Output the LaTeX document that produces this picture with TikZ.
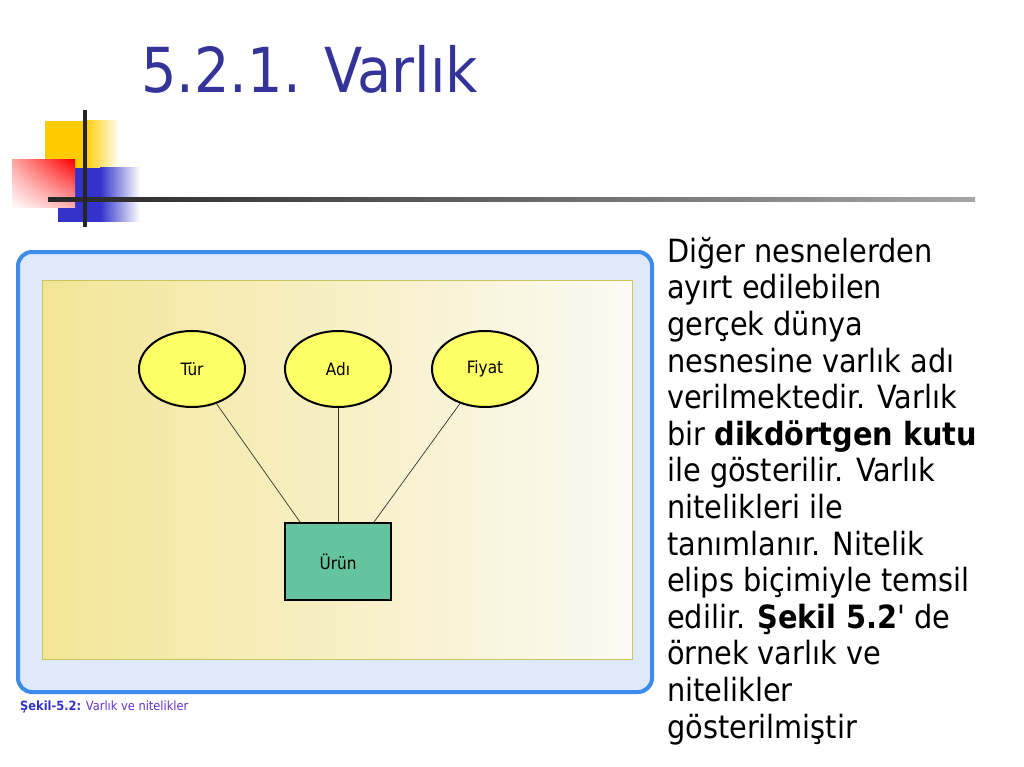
\documentclass[tikz,border=0pt]{standalone}
\usepackage{fontspec}
\setmainfont{DejaVu Sans Condensed}[BoldFont={DejaVu Sans Condensed Bold}]
\usetikzlibrary{positioning,shapes.geometric,shadings}

\definecolor{titleblue}{RGB}{51,51,153}
\definecolor{logoyellow}{RGB}{255,204,0}
\definecolor{logored}{RGB}{255,0,0}
\definecolor{logoblue}{RGB}{51,51,204}
\definecolor{panelblue}{RGB}{60,140,235}
\definecolor{panelfill}{RGB}{222,234,250}
\definecolor{innerleft}{RGB}{244,229,150}
\definecolor{innerright}{RGB}{251,250,244}
\definecolor{innerline}{RGB}{200,200,90}
\definecolor{attrfill}{RGB}{255,255,102}
\definecolor{entityfill}{RGB}{100,196,160}
\definecolor{capbold}{RGB}{51,51,204}
\definecolor{capreg}{RGB}{102,51,204}

\begin{document}
\begin{tikzpicture}[
    x=1pt, y=-1pt,
    node distance=38pt,
    attr/.style={draw, ellipse, line width=2pt, fill=attrfill, minimum width=106pt, minimum height=76pt, font=\fontsize{17}{20}\selectfont},
    entity/.style={draw, rectangle, line width=2.2pt, fill=entityfill, minimum width=106pt, minimum height=77pt, font=\fontsize{17}{20}\selectfont},
    link/.style={draw=black!80, line width=0.7pt}
]
\useasboundingbox[fill=white] (0,0) rectangle (1024,767);

% logo squares and rules
\fill[logoyellow] (45,121) rectangle (86,168);
\shade[left color=logoyellow, right color=white] (85,121) rectangle (120,168);
\fill[logoblue] (58,168) rectangle (101,222);
\shade[left color=logoblue, right color=white] (100,168) rectangle (140,222);
\shade[upper left=logored!35, upper right=logored, lower left=white, lower right=logored!30] (12,160) rectangle (75,208);
\shade[left color=black!85, right color=black!35] (48,198) rectangle (975,202);
\fill[black!85] (83,110) rectangle (87,227);

% title
\node[anchor=base west, inner sep=0pt, text=titleblue, font=\fontsize{62}{70}\selectfont] (title) at (141,93) {5.2.1. Varlık};

% figure panel
\draw[line width=4pt, draw=panelblue, fill=panelfill, rounded corners=14pt] (18,252) rectangle (652,692);
\shade[left color=innerleft, right color=innerright] (42,280) rectangle (632,659);
\draw[innerline, line width=1pt] (42,280) rectangle (632,659);

\node[attr] (tur) at (192,369) {Tür};
\node[attr, right=of tur] (adi) {Adı};
\node[attr, right=39pt of adi] (fiyat) {Fiyat};
\node[entity, below=114pt of adi] (urun) {Ürün};
\draw[link] (tur) -- ([xshift=-38pt]urun.north);
\draw[link, line width=1pt] (adi) -- (urun);
\draw[link] (fiyat) -- ([xshift=36pt]urun.north);

\node[anchor=west, inner sep=0pt, font=\fontsize{12.7}{15}\selectfont] (caption) at (20,707) {\textcolor{capbold}{\bfseries Şekil-5.2:} \textcolor{capreg}{Varlık ve nitelikler}};

% description
\node[anchor=north west, align=left, inner sep=0pt, font=\fontsize{32}{36.6}\selectfont] (desc) at (667,237) {Diğer nesnelerden\\ayırt edilebilen\\gerçek dünya\\nesnesine varlık adı\\verilmektedir. Varlık\\bir \textbf{dikdörtgen kutu}\\ile gösterilir. Varlık\\nitelikleri ile\\tanımlanır. Nitelik\\elips biçimiyle temsil\\edilir. \textbf{Şekil 5.2}\textquotesingle{} de\\örnek varlık ve\\nitelikler\\gösterilmiştir};
\end{tikzpicture}
\end{document}
